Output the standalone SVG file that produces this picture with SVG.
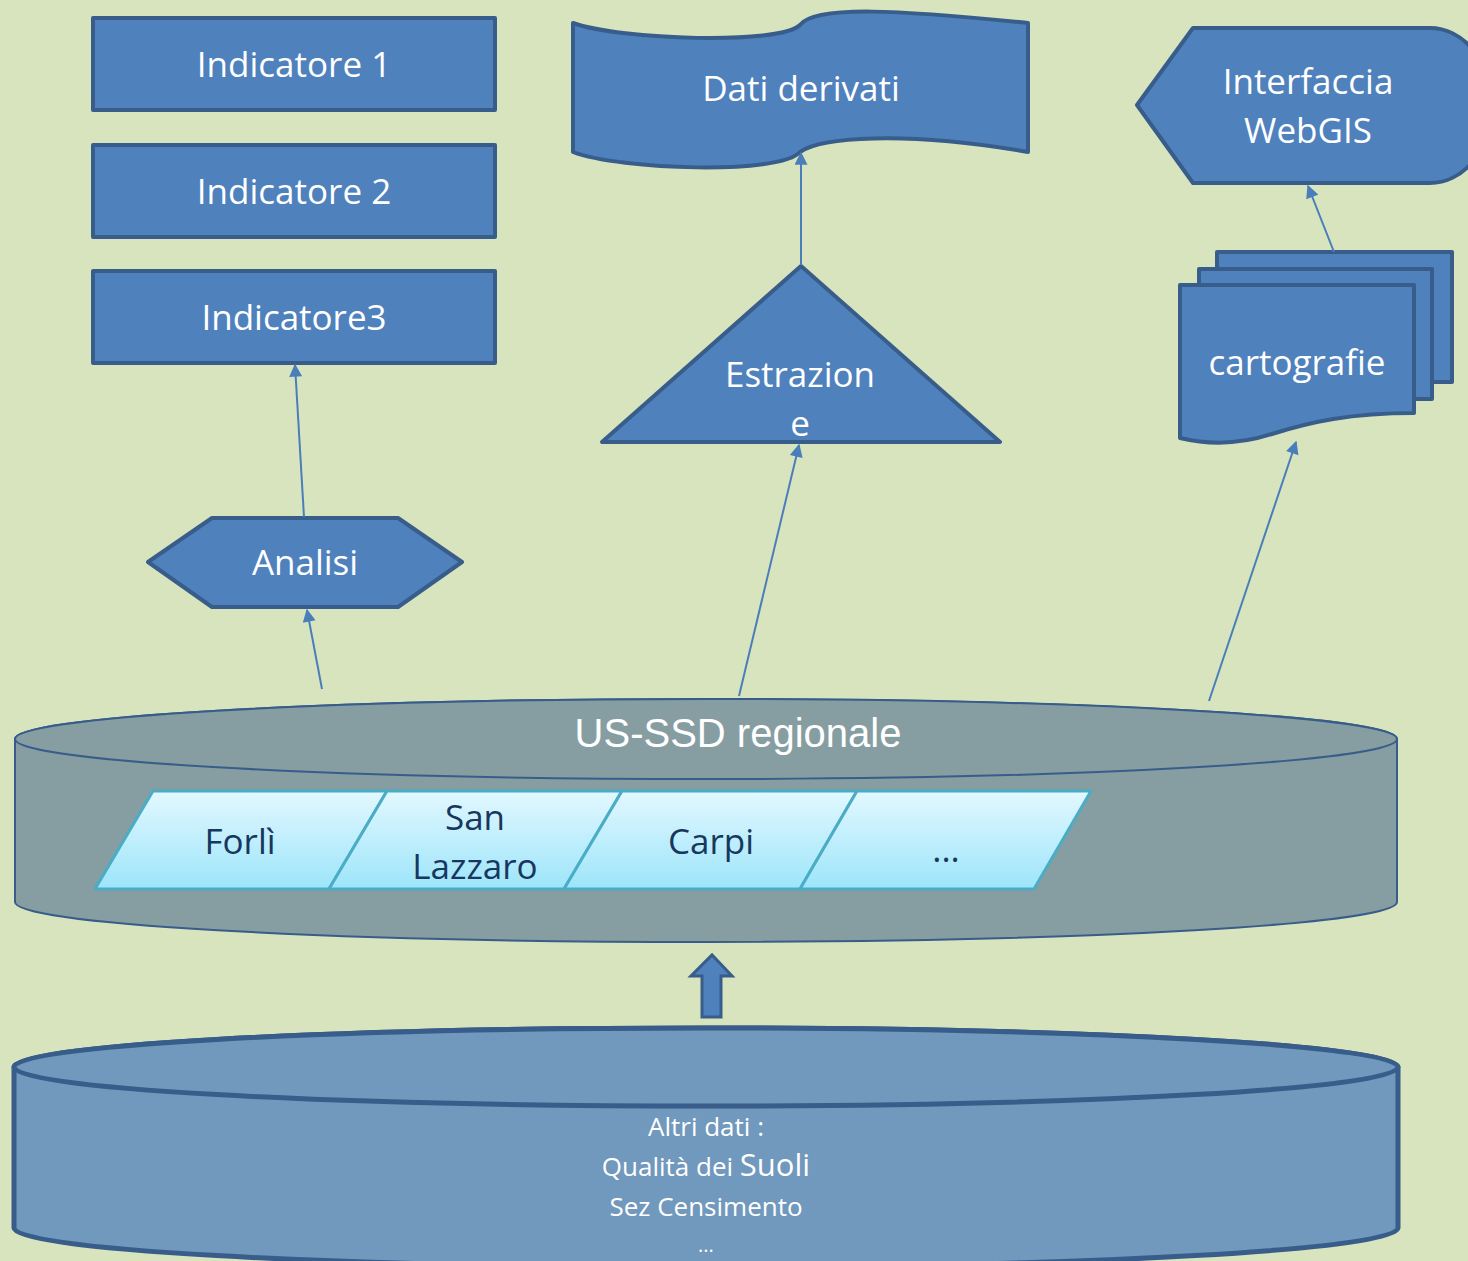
<svg xmlns="http://www.w3.org/2000/svg" width="1468" height="1261" viewBox="0 0 1468 1261">
<defs>
<style>
.n{fill:#4F81BD;stroke:#385D8A;stroke-width:4;stroke-linejoin:round}
.t{font-family:"Open Sans","Noto Sans",sans-serif;fill:#fff;text-anchor:middle;font-size:35px}
.s{font-size:26px}
.p{fill:url(#pg);stroke:#4BACC6;stroke-width:3;stroke-linejoin:round}
.pt{font-family:"Open Sans","Noto Sans",sans-serif;fill:#17375E;text-anchor:middle;font-size:35px}
.c{stroke:#4A7EBB;stroke-width:2;fill:none;marker-end:url(#ah)}
</style>
<linearGradient id="pg" x1="0" y1="0" x2="0" y2="1">
<stop offset="0" stop-color="#E2F8FF"/>
<stop offset="1" stop-color="#9DE5FA"/>
</linearGradient>
<marker id="ah" viewBox="0 0 10 10" refX="9" refY="5" markerWidth="15" markerHeight="13" markerUnits="userSpaceOnUse" orient="auto">
<path d="M0,0 L10,5 L0,10 Z" fill="#4A7EBB"/>
</marker>
</defs>
<rect width="1468" height="1261" fill="#D8E4BD"/>

<g id="altri-dati">
<path d="M14,1067 L14,1228 A692,39 0 0 0 1398,1228 L1398,1067 A692,39 0 0 0 14,1067 Z" fill="#7198BD" stroke="#385D8A" stroke-width="5"/>
<ellipse cx="706" cy="1067" rx="692" ry="39" fill="#7198BD" stroke="#385D8A" stroke-width="5"/>
<text class="t s" x="706" y="1136">Altri dati :</text>
<text class="t s" x="706" y="1176">Qualità dei <tspan style="font-size:31px">Suoli</tspan></text>
<text class="t s" x="706" y="1216">Sez Censimento</text>
<text class="t" x="706" y="1252" style="font-size:20px">...</text>
</g>

<g id="block-arrow">
<path d="M702,1017 L702,976 L691,976 L712,955 L732,976 L721,976 L721,1017 Z" fill="#4F81BD" stroke="#385D8A" stroke-width="3"/>
</g>

<g id="us-ssd">
<path d="M15,739 L15,902 A691,40 0 0 0 1397,902 L1397,739 A691,40 0 0 0 15,739 Z" fill="#869EA2" stroke="#385D8A" stroke-width="2"/>
<ellipse cx="706" cy="739" rx="691" ry="40" fill="#869EA2" stroke="#385D8A" stroke-width="2"/>
<text x="738" y="747" font-family="Liberation Sans, Arial, sans-serif" font-size="40" fill="#fff" text-anchor="middle">US-SSD regionale</text>
</g>

<g id="forli">
<path class="p" d="M153,791 L387,791 L329,889 L95,889 Z"/>
<text class="pt" x="240" y="854">Forlì</text>
</g>
<g id="san-lazzaro">
<path class="p" d="M387,791 L622,791 L564,889 L329,889 Z"/>
<text class="pt" x="475" y="830">San</text>
<text class="pt" x="475" y="879">Lazzaro</text>
</g>
<g id="carpi">
<path class="p" d="M622,791 L857,791 L800,889 L564,889 Z"/>
<text class="pt" x="711" y="854">Carpi</text>
</g>
<g id="altri">
<path class="p" d="M857,791 L1091,791 L1034,889 L800,889 Z"/>
<text class="pt" x="946" y="862">...</text>
</g>

<g id="indicatore1">
<rect class="n" x="93" y="18" width="402" height="92" stroke-linejoin="miter"/>
<text class="t" x="294" y="77">Indicatore 1</text>
</g>
<g id="indicatore2">
<rect class="n" x="93" y="145" width="402" height="92" stroke-linejoin="miter"/>
<text class="t" x="294" y="204">Indicatore 2</text>
</g>
<g id="indicatore3">
<rect class="n" x="93" y="271" width="402" height="92" stroke-linejoin="miter"/>
<text class="t" x="294" y="330">Indicatore3</text>
</g>

<g id="analisi">
<path class="n" d="M148,562 L212,518 L398,518 L462,562 L398,607 L212,607 Z"/>
<text class="t" x="305" y="575">Analisi</text>
</g>

<g id="estrazione">
<path class="n" d="M801,266 L1000,442 L602,442 Z"/>
<text class="t" x="800" y="387">Estrazion</text>
<text class="t" x="800" y="436">e</text>
</g>

<g id="dati-derivati">
<path class="n" d="M573,23 C620,40 780,45 800,25 C815,5 900,10 1028,23 L1028,152 C900,130 820,138 800,152 C780,175 620,170 573,152 Z"/>
<text class="t" x="801" y="101">Dati derivati</text>
</g>

<g id="interfaccia">
<path class="n" d="M1137,105 L1193,28 L1430,28 A62,77.5 0 0 1 1430,183 L1193,183 Z"/>
<text class="t" x="1308" y="94">Interfaccia</text>
<text class="t" x="1308" y="143">WebGIS</text>
</g>

<g id="cartografie">
<rect class="n" x="1217" y="252" width="235" height="130" stroke-linejoin="miter"/>
<rect class="n" x="1199" y="269" width="233" height="130" stroke-linejoin="miter"/>
<path class="n" stroke-linejoin="miter" d="M1180,285 L1414,285 L1414,413 C1350,413 1310,422 1272,434 C1235,446 1205,444 1180,438 Z"/>
<text class="t" x="1297" y="375">cartografie</text>
</g>

<g id="connectors">
<line class="c" x1="322" y1="689" x2="307" y2="610"/>
<line class="c" x1="304" y1="517" x2="295" y2="365"/>
<line class="c" x1="739" y1="696" x2="799" y2="445"/>
<line class="c" x1="801" y1="265" x2="801" y2="153"/>
<line class="c" x1="1209" y1="701" x2="1296" y2="442"/>
<line class="c" x1="1334" y1="252" x2="1308" y2="186"/>
</g>
</svg>
